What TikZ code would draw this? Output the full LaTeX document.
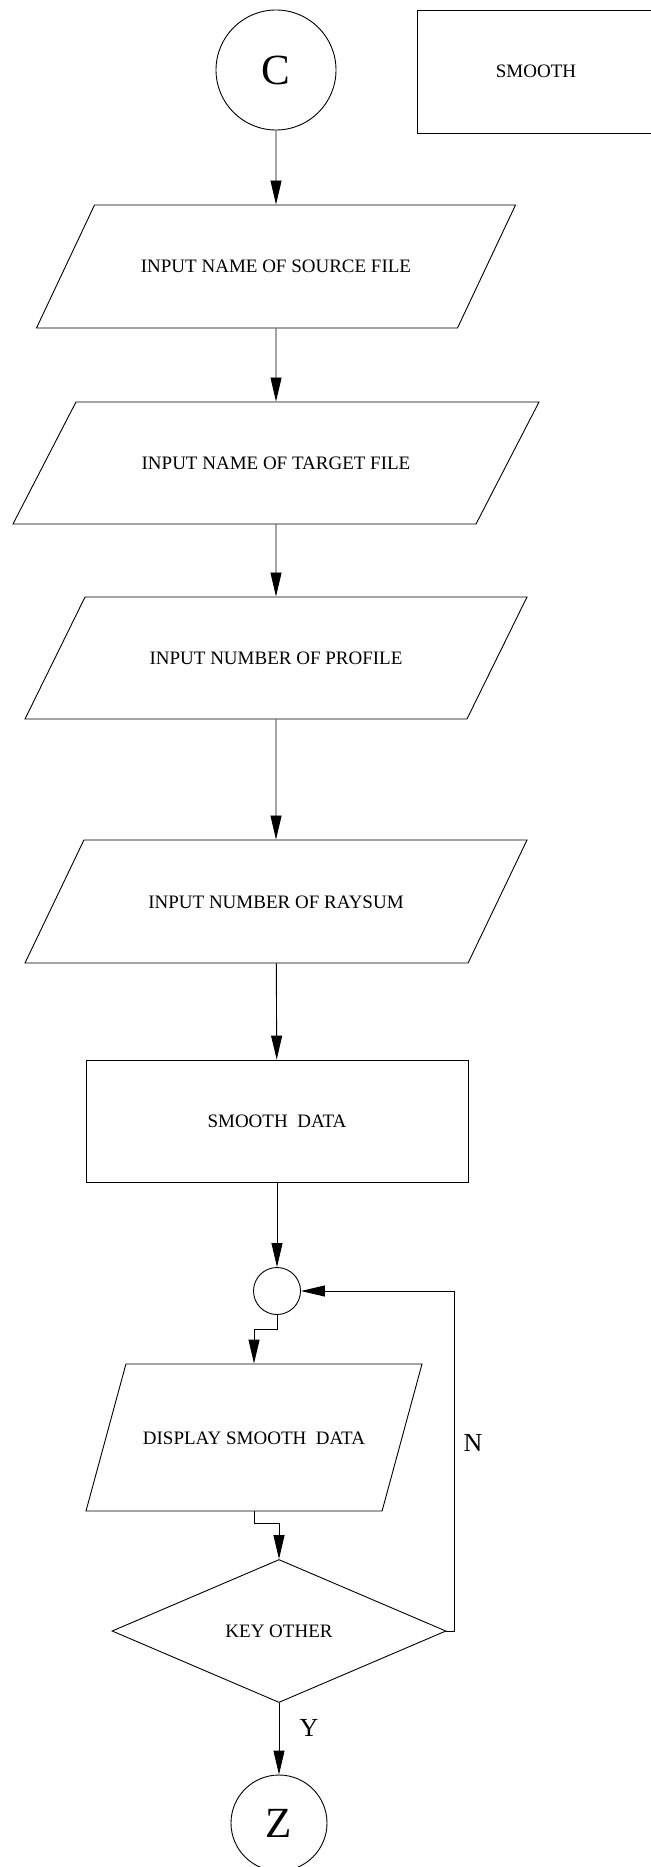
\documentclass[tikz,border=0pt]{standalone}
\usepackage{fontspec}
\setmainfont{Liberation Serif}
\usetikzlibrary{shapes.geometric, arrows.meta, positioning}

\tikzset{
  inbox/.style={draw, trapezium, trapezium stretches body=true, inner xsep=0pt, text height=13pt, text depth=0pt, font=\fontsize{19}{22}\selectfont},
  procbox/.style={draw, rectangle, inner sep=0pt, font=\fontsize{19}{22}\selectfont},
  joint/.style={draw, circle, inner sep=0pt},
  flag/.style={font=\fontsize{26}{30}\selectfont},
  conn/.style={-{Triangle[length=24pt, width=11pt]}},
}

\begin{document}
\begin{tikzpicture}[x=1pt, y=-1pt, line width=0.9pt]
  \useasboundingbox (0,0) rectangle (650,1867);

  % Entry connector and title
  \node[joint, minimum size=120, font=\fontsize{43}{48}\selectfont] (C) at (276,70) {C};
  \node[procbox, minimum width=238, minimum height=123] (title) at (536,71.5) {SMOOTH};

  % Inputs
  \node[inbox, inner ysep=55pt, trapezium left angle=64.75, trapezium right angle=115.25, minimum width=479] (srcfile) at (276,266.5) {INPUT NAME OF SOURCE FILE};
  \node[inbox, inner ysep=54.5pt, trapezium left angle=62.7, trapezium right angle=117.3, minimum width=526] (tgtfile) at (276,463) {INPUT NAME OF TARGET FILE};
  \node[inbox, inner ysep=54.5pt, trapezium left angle=63.8, trapezium right angle=116.2, minimum width=502] (profile) at (276,658) {INPUT NUMBER OF PROFILE};
  \node[inbox, inner ysep=55pt, trapezium left angle=64.4, trapezium right angle=115.6, minimum width=502] (raysum) at (276,901.5) {INPUT NUMBER OF RAYSUM};

  % Smoothing
  \node[procbox, minimum width=382, minimum height=122] (smooth) at (277,1121) {SMOOTH\enspace DATA};

  % Display loop
  \node[joint, minimum size=47] (junc) at (277,1291) {};
  \node[inbox, inner ysep=67pt, trapezium left angle=74.8, trapezium right angle=105.2, minimum width=336] (display) at (254,1437.5) {DISPLAY SMOOTH\enspace DATA};
  \node[draw, diamond, inner sep=0pt, minimum width=334, minimum height=143, font=\fontsize{19}{22}\selectfont] (keyother) at (279,1631) {KEY OTHER};
  \node[joint, minimum size=96, font=\fontsize{43}{48}\selectfont] (Z) at (279,1823) {Z};

  \node[flag] (nlabel) at (473,1443) {N};
  \node[flag] (ylabel) at (309,1728) {Y};

  % Connectors
  \draw[conn] (C) -- (srcfile);
  \draw[conn] (srcfile) -- (tgtfile);
  \draw[conn] (tgtfile) -- (profile);
  \draw[conn] (profile) -- (raysum);
  \draw[conn] (raysum) -- (smooth);
  \draw[conn] (smooth) -- (junc);
  \draw[conn] (junc.south) -- ++(0,14) -| (display.north);
  \draw[conn] (display.south) -- ++(0,12) -| (keyother.north);
  \draw[conn] (keyother.east) -- ++(8,0) |- (junc.east);
  \draw[conn] (keyother.south) -- (Z.north);
\end{tikzpicture}
\end{document}
